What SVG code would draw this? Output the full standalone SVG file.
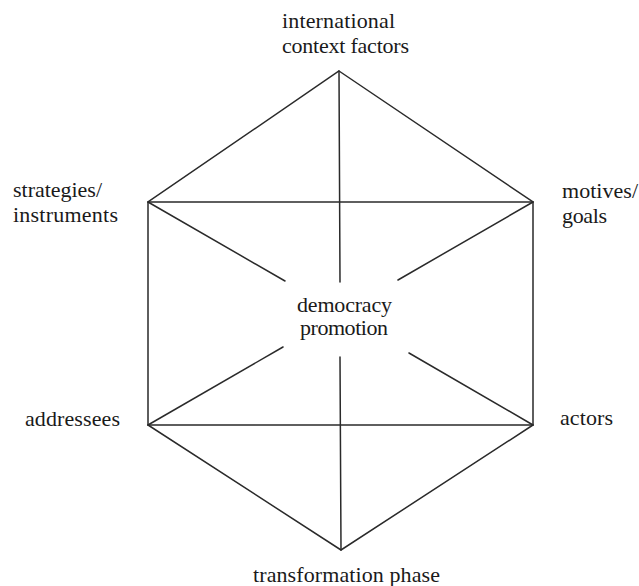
<svg xmlns="http://www.w3.org/2000/svg" width="639" height="586" viewBox="0 0 639 586">
<style>
.l{stroke:#2a2a2a;stroke-width:1.5;fill:none;stroke-linecap:round}
text{font-family:"Liberation Serif","Times New Roman",serif;font-size:22px;fill:#1a1a1a}
</style>
<rect width="639" height="586" fill="#fff"/>
<g id="connectors">
<polygon class="l" points="339,71 533,202 533,425 341,550 148,425 148,202"/>
<line class="l" x1="148" y1="202" x2="533" y2="202"/>
<line class="l" x1="148" y1="425" x2="533" y2="425"/>
<line class="l" x1="339" y1="71" x2="340" y2="282"/>
<line class="l" x1="340" y1="357" x2="341" y2="550"/>
<line class="l" x1="148" y1="202" x2="285" y2="281"/>
<line class="l" x1="533" y1="202" x2="398" y2="280"/>
<line class="l" x1="148" y1="425" x2="283" y2="347"/>
<line class="l" x1="533" y1="425" x2="409" y2="353"/>
</g>
<g id="international">
<text x="282" y="28" textLength="113">international</text>
<text x="282" y="53" textLength="127">context factors</text>
</g>
<g id="strategies">
<text x="13" y="197" textLength="89">strategies/</text>
<text x="13" y="222" textLength="105">instruments</text>
</g>
<g id="motives">
<text x="562" y="198" textLength="76">motives/</text>
<text x="562" y="223" textLength="45">goals</text>
</g>
<g id="democracy">
<text x="297" y="312" textLength="95">democracy</text>
<text x="300" y="335" textLength="88">promotion</text>
</g>
<g id="addressees">
<text x="25" y="426" textLength="95">addressees</text>
</g>
<g id="actors">
<text x="560" y="425" textLength="53">actors</text>
</g>
<g id="transformation">
<text x="253" y="582" textLength="187">transformation phase</text>
</g>
</svg>
